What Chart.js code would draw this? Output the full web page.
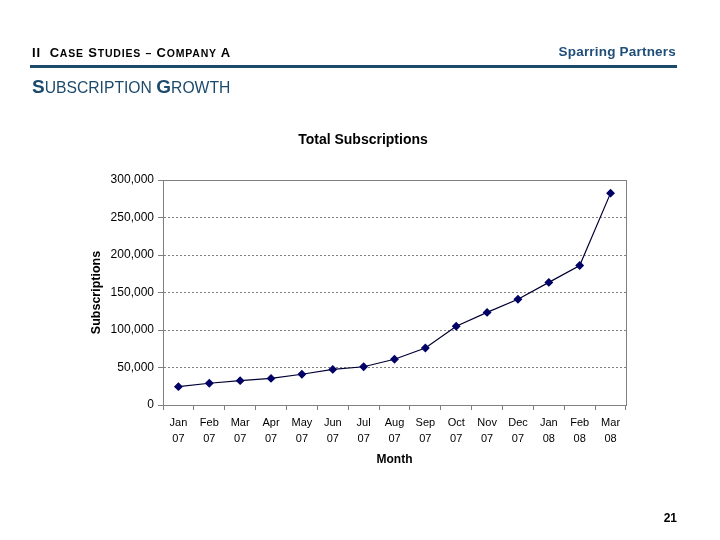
<!DOCTYPE html>
<html>
<head>
<meta charset="utf-8">
<script src="https://cdn.jsdelivr.net/npm/chart.js@4/dist/chart.umd.min.js"></script>
<style>
  html, body { margin:0; padding:0; background:#fff; }
  body { width:720px; height:540px; position:relative; overflow:hidden; font-family:Arial, "Liberation Sans", sans-serif; }
  #c { position:absolute; left:0; top:0; }
  .abs { position:absolute; white-space:nowrap; }
  #hdr { left:32px; top:45px; font-size:13px; font-weight:bold; color:#000; letter-spacing:0.8px; }
  #hdr span { font-size:10.5px; }
  #brand { right:44px; top:44px; font-size:13.5px; font-weight:bold; color:#1f4e79; letter-spacing:0.2px; }
  #rule { left:30px; top:65px; width:647px; height:3px; background:#1d4a6b; }
  #sub { left:32px; top:76px; color:#1d4a6b; font-size:15.7px; }
  #sub b { font-size:19px; }
  #ctitle { left:263px; top:131px; width:200px; text-align:center; font-size:14px; font-weight:bold; color:#000; }
  #pg { right:43px; top:511px; font-size:12px; font-weight:bold; color:#000; }
</style>
</head>
<body>
<canvas id="c" width="720" height="540"></canvas>
<div class="abs" id="hdr">II&nbsp; C<span>ASE</span> S<span>TUDIES</span> <span>–</span> C<span>OMPANY</span> A</div>
<div class="abs" id="brand">Sparring Partners</div>
<div class="abs" id="rule"></div>
<div class="abs" id="sub"><b>S</b>UBSCRIPTION <b>G</b>ROWTH</div>
<div class="abs" id="ctitle">Total Subscriptions</div>
<div class="abs" id="pg">21</div>
<script>
const months = [["Jan","07"],["Feb","07"],["Mar","07"],["Apr","07"],["May","07"],["Jun","07"],["Jul","07"],["Aug","07"],["Sep","07"],["Oct","07"],["Nov","07"],["Dec","07"],["Jan","08"],["Feb","08"],["Mar","08"]];
const subscriptions = [24500, 29000, 32500, 35500, 41000, 47500, 51000, 61000, 76000, 105000, 123500, 141000, 163500, 186000, 282500];
const yTickMax = 300000;
const yTickStep = 50000;

const frame = {
  id: 'frame',
  afterDraw(chart) {
    const a = chart.chartArea, ctx = chart.ctx;
    ctx.save();
    ctx.strokeStyle = '#808080';
    ctx.lineWidth = 1;
    ctx.setLineDash([]);
    ctx.strokeRect(Math.round(a.left) + 0.5, Math.round(a.top) + 0.5, Math.round(a.right - a.left), Math.round(a.bottom - a.top));
    ctx.restore();
  }
};

new Chart(document.getElementById('c'), {
  type: 'line',
  data: {
    labels: months,
    datasets: [{
      data: subscriptions,
      borderColor: '#000033',
      borderWidth: 1.2,
      pointStyle: 'rectRot',
      pointRadius: 3.6,
      pointBackgroundColor: '#000066',
      pointBorderColor: '#000066',
      tension: 0
    }]
  },
  options: {
    responsive: false,
    animation: false,
    devicePixelRatio: 1,
    layout: { padding: { left: 85, top: 180, right: 94, bottom: 60 } },
    plugins: { legend: { display: false }, tooltip: { enabled: false }, title: { display: false } },
    scales: {
      x: {
        offset: true,
        afterFit(s) { s.height = 75; },
        grid: { offset: true, drawOnChartArea: false, drawTicks: true, tickLength: 5, color: '#808080' },
        border: { display: true, color: '#808080' },
        ticks: { color: '#000', font: { family: 'Arial', size: 11, lineHeight: 1.45 }, padding: 5, maxRotation: 0, autoSkip: false },
        title: { display: true, text: 'Month', color: '#000', font: { family: 'Arial', size: 12, weight: 'bold' }, padding: { top: 13, bottom: 13 } }
      },
      y: {
        min: 0,
        max: yTickMax,
        afterFit(s) { s.width = 78; },
        grid: { color: '#808080', tickLength: 5, tickBorderDash: [], tickColor: '#808080' },
        border: { display: true, color: '#808080', dash: [2, 2] },
        ticks: {
          stepSize: yTickStep,
          color: '#000',
          padding: 4,
          font: { family: 'Arial', size: 12 },
          callback: v => v.toLocaleString('en-US')
        },
        title: { display: true, text: 'Subscriptions', color: '#000', font: { family: 'Arial', size: 12.5, weight: 'bold' }, padding: 4 }
      }
    }
  },
  plugins: [frame]
});
</script>
</body>
</html>
